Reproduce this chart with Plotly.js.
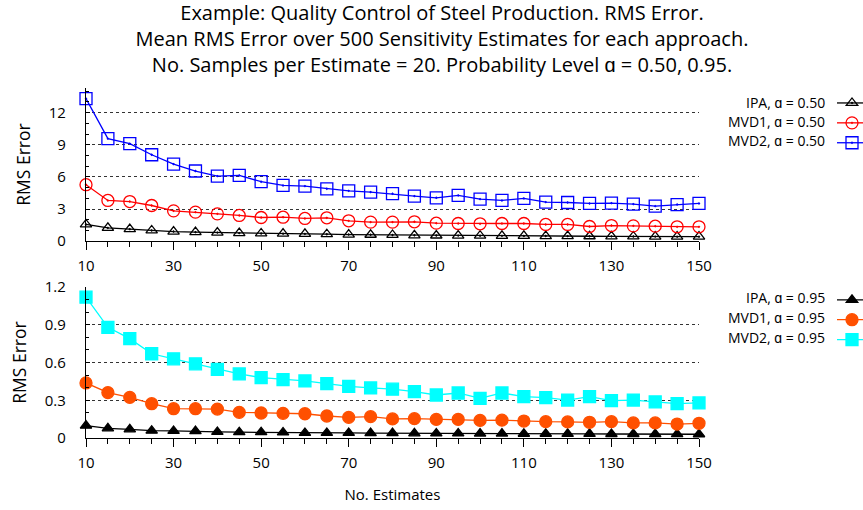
<!DOCTYPE html>
<html>
<head>
<meta charset="utf-8">
<script src="https://cdn.plot.ly/plotly-3.0.1.min.js"></script>
<style>html,body{margin:0;padding:0;background:#fff}#chart{width:863px;height:510px}</style>
</head>
<body>
<div id="chart"></div>
<script>
// ---- data ----
const numEstimates = [10,15,20,25,30,35,40,45,50,55,60,65,70,75,80,85,90,95,100,105,110,115,120,125,130,135,140,145,150];

const ipa050  = [1.56,1.24,1.12,1.00,0.90,0.84,0.80,0.75,0.72,0.70,0.68,0.65,0.62,0.60,0.58,0.55,0.53,0.52,0.51,0.50,0.49,0.48,0.47,0.46,0.45,0.44,0.43,0.42,0.42];
const mvd1050 = [5.27,3.80,3.70,3.33,2.83,2.71,2.55,2.40,2.21,2.24,2.12,2.18,1.90,1.78,1.78,1.81,1.68,1.65,1.62,1.65,1.65,1.56,1.56,1.37,1.46,1.43,1.40,1.34,1.34];
const mvd2050 = [13.31,9.57,9.10,8.07,7.20,6.55,6.08,6.14,5.55,5.20,5.14,4.89,4.70,4.58,4.43,4.21,4.05,4.27,3.93,3.80,3.99,3.65,3.61,3.52,3.55,3.46,3.27,3.42,3.52];

const ipa095  = [0.098,0.077,0.069,0.058,0.056,0.055,0.048,0.046,0.046,0.044,0.040,0.040,0.040,0.039,0.039,0.037,0.036,0.036,0.035,0.035,0.034,0.034,0.033,0.033,0.032,0.032,0.031,0.031,0.030];
const mvd1095 = [0.438,0.361,0.323,0.273,0.233,0.233,0.230,0.204,0.199,0.196,0.193,0.175,0.164,0.170,0.152,0.154,0.148,0.148,0.140,0.142,0.135,0.130,0.128,0.125,0.130,0.120,0.120,0.111,0.117];
const mvd2095 = [1.12,0.88,0.79,0.67,0.63,0.59,0.546,0.51,0.48,0.464,0.454,0.432,0.41,0.398,0.388,0.369,0.342,0.358,0.315,0.358,0.329,0.321,0.302,0.329,0.297,0.302,0.287,0.273,0.279];

const labels050 = ["IPA, ɑ = 0.50", "MVD1, ɑ = 0.50", "MVD2, ɑ = 0.50"];
const labels095 = ["IPA, ɑ = 0.95", "MVD1, ɑ = 0.95", "MVD2, ɑ = 0.95"];
const xTicks = [10,30,50,70,90,110,130,150];

// ---- traces ----
const FONT = "'Open Sans', sans-serif";
function tr(y, xa, ya, color, symbol, size, legend, label) {
  return {
    x: numEstimates, y: y, xaxis: xa, yaxis: ya, type: 'scatter', mode: 'lines+markers',
    name: '', hovertext: label, legend: legend, showlegend: true, cliponaxis: false,
    line: {color: color, width: 1.3},
    marker: {color: color, symbol: symbol, size: size, line: {color: color, width: 1.3}}
  };
}
const data = [
  tr(ipa050,  'x',  'y',  '#000000', 'triangle-up-open-dot', 10, 'legend',  labels050[0]),
  tr(mvd1050, 'x',  'y',  '#ff0000', 'circle-open-dot',      12, 'legend',  labels050[1]),
  tr(mvd2050, 'x',  'y',  '#0000ff', 'square-open-dot',      12, 'legend',  labels050[2]),
  tr(ipa095,  'x2', 'y2', '#000000', 'triangle-up',          10, 'legend2', labels095[0]),
  tr(mvd1095, 'x2', 'y2', '#ff5000', 'circle',               12, 'legend2', labels095[1]),
  tr(mvd2095, 'x2', 'y2', '#00ffff', 'square',               12, 'legend2', labels095[2])
];

// ---- layout ----
const L = 86, R = 699, T = 88, B = 438.3;
const PW = R - L, PH = B - T;
const px = v => (v - L) / PW;
const py = v => (B - v) / PH;

function xax(anchor) {
  return {
    anchor: anchor, domain: [0, 1], range: [10, 150], tickvals: xTicks,
    ticks: 'outside', ticklen: 8, tickwidth: 1, tickcolor: '#000', ticklabelstandoff: 3,
    minor: {dtick: 5, tick0: 10, ticks: 'outside', ticklen: 5, tickcolor: '#000', showgrid: false},
    showline: true, linecolor: '#000', linewidth: 1.2, showgrid: false, zeroline: false,
    tickfont: {family: FONT, size: 15, color: '#000'}
  };
}
function yax(anchor, domain, range, dtick, minorDtick) {
  return {
    anchor: anchor, domain: domain, range: range, dtick: dtick, tick0: 0,
    ticks: 'inside', ticklen: 4, tickcolor: '#000', ticklabelstandoff: 16,
    minor: {dtick: minorDtick, tick0: 0, ticks: 'inside', ticklen: 3, tickcolor: '#000', showgrid: false},
    showline: true, linecolor: '#000', linewidth: 1.2, zeroline: false,
    showgrid: true, gridcolor: '#333', griddash: 'dot', gridwidth: 1,
    tickfont: {family: FONT, size: 15, color: '#000'},
    title: {text: 'RMS Error', font: {family: FONT, size: 17.5, color: '#000'}, standoff: 13}
  };
}

const xa1 = xax('y');
const xa2 = xax('y2');
xa2.title = {text: 'No. Estimates', font: {family: FONT, size: 15, color: '#000'}, standoff: 18};

const annotations = [];
[[labels050, [103, 122, 141]], [labels095, [298, 318, 338]]].forEach(([labs, ys]) => {
  labs.forEach((t, i) => annotations.push({
    xref: 'paper', yref: 'paper', x: px(827), y: py(ys[i]), xanchor: 'right', yanchor: 'middle',
    text: t, showarrow: false, font: {family: FONT, size: 14, color: '#000'}
  }));
});

const layout = {
  width: 863, height: 510,
  margin: {l: L, r: 863 - R, t: T, b: 510 - B, autoexpand: false},
  paper_bgcolor: '#fff', plot_bgcolor: '#fff',
  font: {family: FONT, color: '#000'},
  title: {
    text: 'Example: Quality Control of Steel Production. RMS Error.<br>Mean RMS Error over 500 Sensitivity Estimates for each approach.<br>No. Samples per Estimate = 20. Probability Level ɑ = 0.50, 0.95.',
    x: 442 / 863, xref: 'container', xanchor: 'center', y: 0.960, yref: 'container', yanchor: 'top',
    font: {family: FONT, size: 20, color: '#000'}
  },
  xaxis: xa1,
  yaxis: yax('x', [py(241.3), 1], [0, 14.3], 3, 1),
  xaxis2: xa2,
  yaxis2: yax('x2', [0, py(287.3)], [0, 1.2], 0.3, 0.1),
  legend: {x: px(832), y: py(88), xanchor: 'left', yanchor: 'top', bgcolor: 'rgba(0,0,0,0)',
           font: {size: 13}, itemwidth: 30, tracegroupgap: 0},
  legend2: {x: px(832), y: py(285), xanchor: 'left', yanchor: 'top', bgcolor: 'rgba(0,0,0,0)',
            font: {size: 13}, itemwidth: 30, tracegroupgap: 0},
  annotations: annotations,
  hovermode: 'closest'
};

Plotly.newPlot('chart', data, layout, {displayModeBar: false});
</script>
</body>
</html>
